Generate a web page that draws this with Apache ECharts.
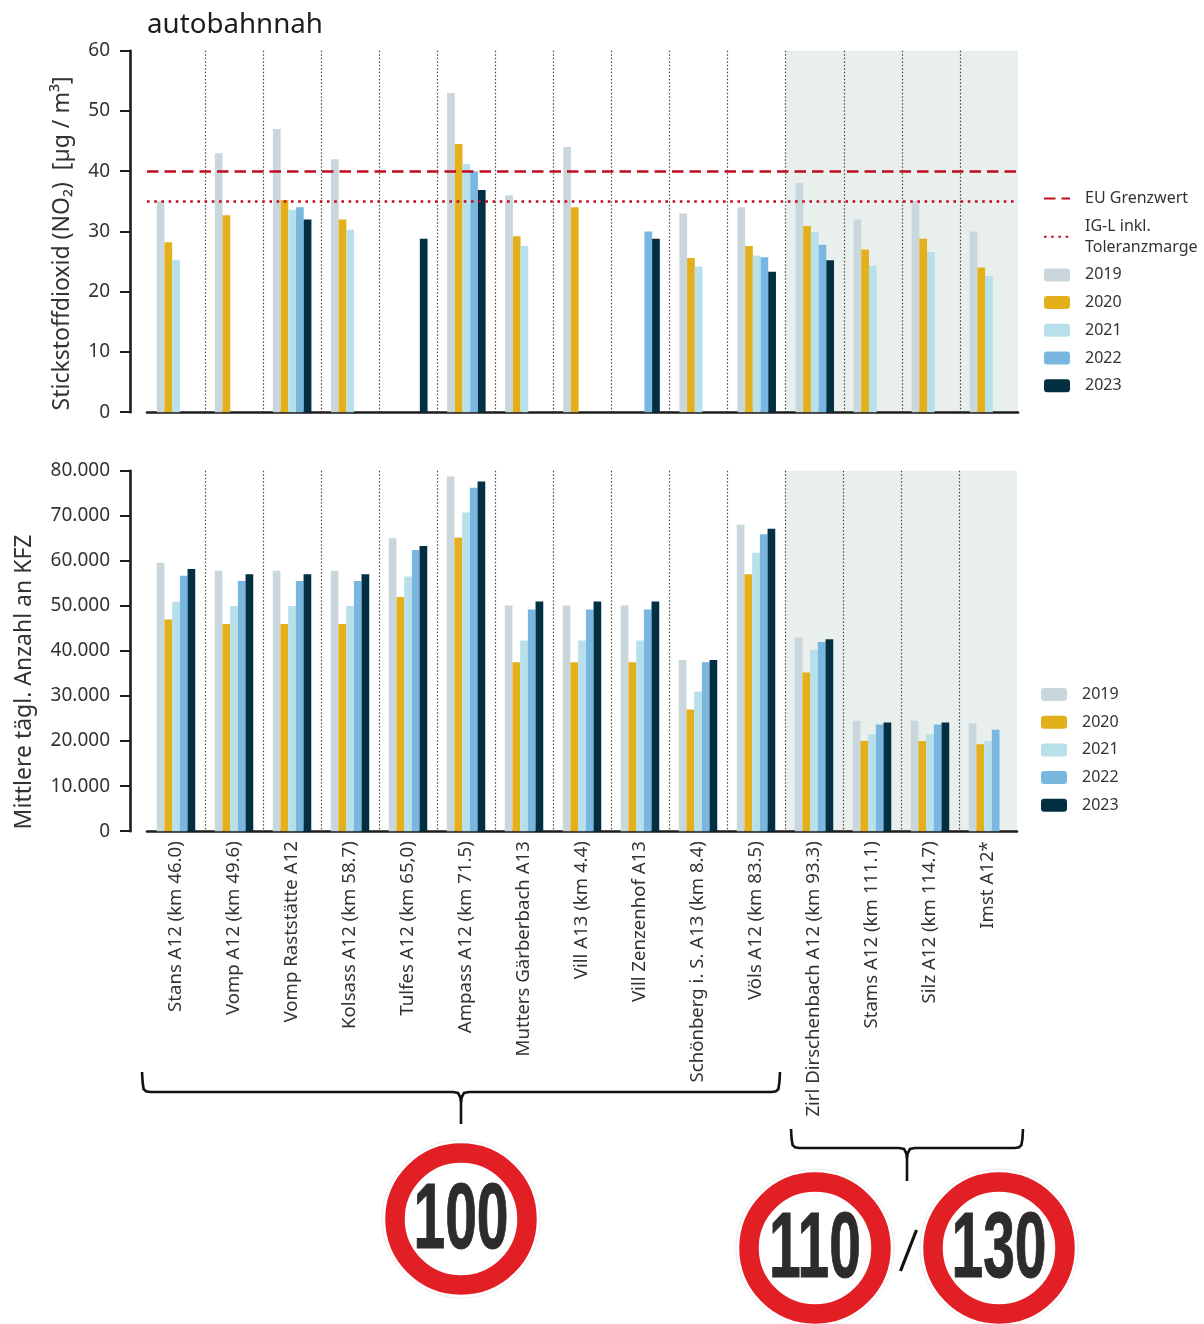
<!DOCTYPE html>
<html><head><meta charset="utf-8">
<script src="https://cdn.jsdelivr.net/npm/echarts@6/dist/echarts.min.js"></script>
<style>html,body{margin:0;padding:0;background:#fff}#c{width:1204px;height:1324px}</style>
</head><body><div id="c"></div>
<script>
const stations = ['Stans A12 (km 46.0)','Vomp A12 (km 49.6)','Vomp Raststätte A12','Kolsass A12 (km 58.7)','Tulfes A12 (km 65,0)','Ampass A12 (km 71.5)','Mutters Gärberbach A13','Vill A13 (km 4.4)','Vill Zenzenhof A13','Schönberg i. S. A13 (km 8.4)','Völs A12 (km 83.5)','Zirl Dirschenbach A12 (km 93.3)','Stams A12 (km 111.1)','Silz A12 (km 114.7)','Imst A12*'];
const years = ['2019','2020','2021','2022','2023'];
const yearColors = ['#c9d6dc','#e3b01b','#b7e0ea','#79b7e0','#022f41'];
const no2_2019 = [35,43,47,42,null,53,36,44,null,33,34,38,32,35,30];
const no2_2020 = [28.2,32.7,35.2,32,null,44.5,29.2,34,null,25.6,27.6,30.9,27,28.8,24];
const no2_2021 = [25.3,null,33.6,30.3,null,41.2,27.6,null,null,24.2,26,29.9,24.3,26.6,22.6];
const no2_2022 = [null,null,34,null,null,40,null,null,30,null,25.7,27.8,null,null,null];
const no2_2023 = [null,null,32,null,28.8,36.9,null,null,28.8,null,23.3,25.2,null,null,null];
const kfz_2019 = [59600,57800,57800,57800,65000,78700,50100,50100,50100,38000,68000,43000,24500,24500,23900];
const kfz_2020 = [47000,46000,46000,46000,52000,65200,37500,37500,37500,27000,57000,35200,20000,20000,19300];
const kfz_2021 = [50900,50000,50000,50000,56500,70700,42300,42300,42300,31000,61800,40200,21500,21500,20000];
const kfz_2022 = [56700,55500,55500,55500,62400,76200,49200,49200,49200,37500,65900,42000,23700,23700,22500];
const kfz_2023 = [58200,57000,57000,57000,63300,77600,51000,51000,51000,38000,67100,42600,24100,24100,null];
const limitEU = 40, limitIGL = 35;
const limitNames = ['EU Grenzwert','IG-L inkl.\nToleranzmarge'];
const titleText = 'autobahnnah';
const yNameTop = 'Stickstoffdioxid (NO₂)  [µg / m³]';
const yNameBottom = 'Mittlere tägl. Anzahl an KFZ';
const shaded = stations.map((s,i)=> i>=11 ? '#e9efed' : 'rgba(0,0,0,0)');

const FONT = '"Noto Sans"';
const INK = '#1d1d1b', TXT = '#333333', RED = '#c10b1f';
const no2 = [no2_2019,no2_2020,no2_2021,no2_2022,no2_2023];
const kfz = [kfz_2019,kfz_2020,kfz_2021,kfz_2022,kfz_2023];

function xAxis(gridIndex, showLabels){
  return {type:'category',gridIndex,data:stations,
    axisLine:{lineStyle:{color:INK,width:2.6}},axisTick:{show:false},
    splitLine:{show:true,interval:0,showMinLine:false,showMaxLine:false,lineStyle:{color:'#444',type:[1.5,2],width:1.2}},
    splitArea:{show:true,interval:0,areaStyle:{color:shaded}},
    axisLabel:showLabels?{interval:0,rotate:90,margin:10,fontFamily:FONT,fontSize:18.6,color:TXT}:{show:false,interval:0}};
}
function yAxis(gridIndex,max,interval,name,gap,pad,fmt){
  return {type:'value',gridIndex,min:0,max,interval,offset:17,position:'left',
    name,nameLocation:'middle',nameGap:gap,nameRotate:90,
    nameTextStyle:{fontFamily:FONT,fontSize:23,color:TXT,padding:pad},
    axisLine:{show:true,onZero:false,lineStyle:{color:INK,width:2.6}},
    axisTick:{show:true,length:10,lineStyle:{color:INK,width:2}},
    splitLine:{show:false},
    axisLabel:{fontFamily:FONT,fontSize:19,color:TXT,margin:20,formatter:fmt}};
}
const dotted = v => String(v).replace(/\B(?=(\d{3})+$)/g,'.');
const series = [];
years.forEach((y,i)=>series.push({name:y,type:'bar',xAxisIndex:0,yAxisIndex:0,data:no2[i],barWidth:7.7,barGap:'0%',itemStyle:{color:yearColors[i]},silent:true}));
years.forEach((y,i)=>series.push({name:y,type:'bar',xAxisIndex:1,yAxisIndex:1,data:kfz[i],barWidth:7.7,barGap:'0%',itemStyle:{color:yearColors[i]},silent:true}));
[[limitNames[0],limitEU,[11.5,6],2.6],[limitNames[1],limitIGL,[2.6,4.6],2.6]].forEach(([name,v,dash,w])=>series.push({
  name,type:'line',xAxisIndex:0,yAxisIndex:0,data:[],showSymbol:false,symbol:'none',
  lineStyle:{color:RED,type:dash,width:w},itemStyle:{color:RED,opacity:0},
  markLine:{silent:true,symbol:'none',animation:false,label:{show:false},lineStyle:{color:RED,type:dash,width:w},data:[{yAxis:v}]}
}));
const legendBase = {orient:'vertical',padding:0,itemWidth:26,itemHeight:13,itemGap:6.7,selectedMode:false,
  textStyle:{fontFamily:FONT,fontSize:16,lineHeight:21,color:TXT,padding:[0,0,0,10]}};

function bracePts(x0,x1,xm,yTop,yH,yTip){
  return [
    [[x0,yTop],[x0+.6,yTop+10],[x0+1.6,yH-3],[x0+4,yH-.8],[x0+8,yH],[xm-8,yH],[xm-3,yH+1],[xm-.8,yH+5],[xm,yH+10],[xm,yTip]],
    [[xm,yH+10],[xm+.8,yH+5],[xm+3,yH+1],[xm+8,yH],[x1-8,yH],[x1-4,yH-.8],[x1-1.6,yH-3],[x1-.6,yTop+10],[x1,yTop]]
  ];
}
function sign(cx,cy,label){
  return [
    {type:'circle',silent:true,shape:{cx,cy,r:79},style:{fill:'#fff',stroke:'#eeeeee',lineWidth:1}},
    {type:'circle',silent:true,shape:{cx,cy,r:66},style:{fill:'none',stroke:'#e31f26',lineWidth:19.5}},
    {type:'text',silent:true,x:cx,y:cy+4,scaleX:0.62,style:{text:label,fontFamily:'"Liberation Sans"',fontWeight:'bold',fontSize:92,fill:'#2d2c2a',stroke:'#2d2c2a',lineWidth:1,textAlign:'center',textVerticalAlign:'middle'}}
  ];
}
const braceLines = [...bracePts(142,780,461,1072,1092,1124),...bracePts(791,1023,907,1129,1148,1181)]
  .map(points=>({type:'polyline',silent:true,shape:{points},style:{fill:'none',stroke:'#111',lineWidth:2.6}}));
const graphics = [
  ...braceLines,
  ...sign(461,1219,'100'),...sign(815,1248,'110'),...sign(999,1248,'130'),
  {type:'line',silent:true,shape:{x1:916.5,y1:1230,x2:900.5,y2:1271},style:{stroke:'#111',lineWidth:3.2}}
];
const chart = echarts.init(document.getElementById('c'),null,{renderer:'canvas'});
chart.setOption({
  animation:false,backgroundColor:'#fff',
  title:{text:titleText,left:147,top:6,padding:0,textStyle:{fontFamily:FONT,fontSize:27.7,lineHeight:38,fontWeight:'normal',color:INK}},
  grid:[{left:147,top:50.7,width:871,height:361.5,containLabel:false,outerBoundsMode:'none'},{left:147,top:470.7,width:870,height:360.5,containLabel:false,outerBoundsMode:'none'}],
  xAxis:[xAxis(0,false),xAxis(1,true)],
  yAxis:[yAxis(0,60,10,yNameTop,56,[0,24,0,0]),yAxis(1,80000,10000,yNameBottom,94,[0,62,0,0],dotted)],
  legend:[
    {...legendBase,left:1043,top:188,data:[limitNames[0],limitNames[1],...years]},
    {...legendBase,left:1041,top:684,data:years}
  ],
  series,
  graphic:{elements:graphics}
});
</script></body></html>
